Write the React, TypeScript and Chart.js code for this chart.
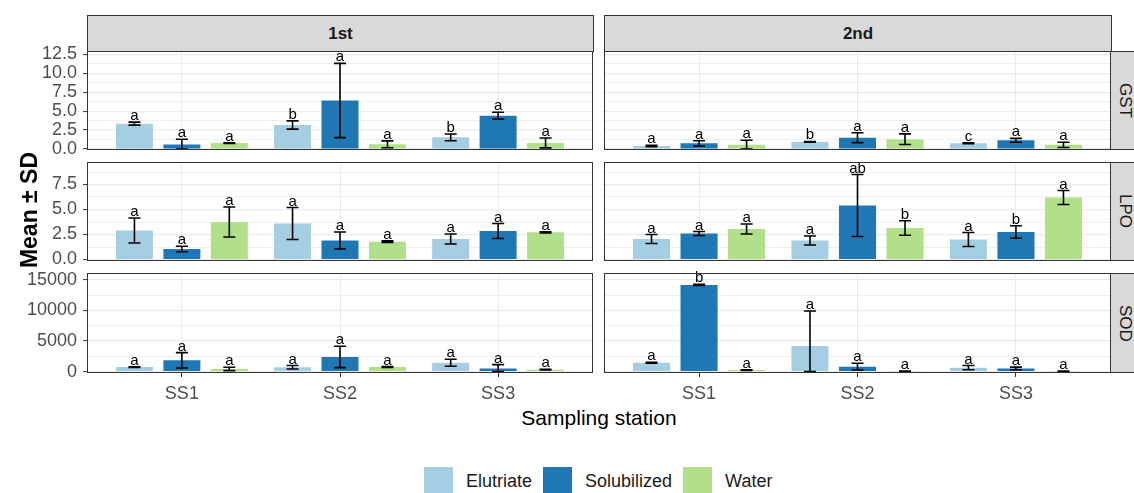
import React, { useEffect, useRef } from 'react';
import { Chart, registerables } from 'chart.js';

Chart.register(...registerables);

const FONT = "'Liberation Sans', Arial, Helvetica, sans-serif";
Chart.defaults.font.family = FONT;

// ---------- data ----------
const STATIONS = ['SS1', 'SS2', 'SS3'];
const STATION_POS = [1, 2, 3];
const TREATMENTS = ['Elutriate', 'Solubilized', 'Water'];
const COLORS = ['#A6CEE3', '#1F78B4', '#B2DF8A'];
const PERIODS = ['1st', '2nd'];
const METRICS = ['GST', 'LPO', 'SOD'];

// rows: Elutriate, Solubilized, Water ; columns: SS1, SS2, SS3
const GST_1ST_MEAN = [[3.35, 3.17, 1.54], [0.6, 6.4, 4.4], [0.78, 0.62, 0.8]];
const GST_1ST_SD = [[0.2, 0.55, 0.44], [0.68, 4.9, 0.45], [0.05, 0.45, 0.65]];
const GST_1ST_LETTERS = [['a', 'b', 'b'], ['a', 'a', 'a'], ['a', 'a', 'a']];

const GST_2ND_MEAN = [[0.4, 0.95, 0.75], [0.75, 1.5, 1.15], [0.55, 1.3, 0.55]];
const GST_2ND_SD = [[0.08, 0.05, 0.06], [0.35, 0.65, 0.25], [0.6, 0.7, 0.35]];
const GST_2ND_LETTERS = [['a', 'b', 'c'], ['a', 'a', 'a'], ['a', 'a', 'a']];

const LPO_1ST_MEAN = [[2.9, 3.6, 2.05], [1.05, 1.9, 2.85], [3.75, 1.78, 2.72]];
const LPO_1ST_SD = [[1.25, 1.6, 0.5], [0.27, 0.85, 0.75], [1.5, 0.08, 0.06]];
const LPO_1ST_LETTERS = [['a', 'a', 'a'], ['a', 'a', 'a'], ['a', 'a', 'a']];

const LPO_2ND_MEAN = [[2.05, 1.9, 2.0], [2.6, 5.4, 2.75], [3.05, 3.15, 6.2]];
const LPO_2ND_SD = [[0.45, 0.45, 0.7], [0.2, 3.1, 0.62], [0.5, 0.72, 0.7]];
const LPO_2ND_LETTERS = [['a', 'a', 'a'], ['a', 'ab', 'b'], ['a', 'b', 'a']];

const SOD_1ST_MEAN = [[750, 720, 1450], [1850, 2400, 520], [450, 760, 320]];
const SOD_1ST_SD = [[60, 280, 580], [1250, 1750, 620], [280, 80, 60]];
const SOD_1ST_LETTERS = [['a', 'a', 'a'], ['a', 'a', 'a'], ['a', 'a', 'a']];

const SOD_2ND_MEAN = [[1450, 4200, 650], [14150, 820, 520], [260, 60, 60]];
const SOD_2ND_SD = [[80, 5700, 350], [100, 550, 220], [50, 30, 30]];
const SOD_2ND_LETTERS = [['a', 'a', 'a'], ['b', 'a', 'a'], ['a', 'a', 'a']];

// axis ticks / limits
const GST_MAJOR = [0, 2.5, 5, 7.5, 10, 12.5];
const GST_MINOR = [1.25, 3.75, 6.25, 8.75, 11.25];
const GST_LIMITS = [-0.13, 12.94];
const LPO_MAJOR = [0, 2.5, 5, 7.5];
const LPO_MINOR = [1.25, 3.75, 6.25, 8.75];
const LPO_LIMITS = [-0.15, 9.75];
const SOD_MAJOR = [0, 5000, 10000, 15000];
const SOD_MINOR = [2500, 7500, 12500];
const SOD_LIMITS = [-220, 16100];
const X_LIMITS = [0.4, 3.6];

// ---------- layout ----------
const COL_LEFT = [87, 604];
const COL_WIDTH = [506, 507];
const ROW_TOP = [51, 162, 273];
const ROW_HEIGHT = [99, 99, 100];

const fmtDecimal = (v: number) => v.toFixed(1);
const fmtInt = (v: number) => String(v);

const ROWS = [
  { major: GST_MAJOR, minor: GST_MINOR, limits: GST_LIMITS, fmt: fmtDecimal,
    panels: [
      { mean: GST_1ST_MEAN, sd: GST_1ST_SD, letters: GST_1ST_LETTERS },
      { mean: GST_2ND_MEAN, sd: GST_2ND_SD, letters: GST_2ND_LETTERS },
    ] },
  { major: LPO_MAJOR, minor: LPO_MINOR, limits: LPO_LIMITS, fmt: fmtDecimal,
    panels: [
      { mean: LPO_1ST_MEAN, sd: LPO_1ST_SD, letters: LPO_1ST_LETTERS },
      { mean: LPO_2ND_MEAN, sd: LPO_2ND_SD, letters: LPO_2ND_LETTERS },
    ] },
  { major: SOD_MAJOR, minor: SOD_MINOR, limits: SOD_LIMITS, fmt: fmtInt,
    panels: [
      { mean: SOD_1ST_MEAN, sd: SOD_1ST_SD, letters: SOD_1ST_LETTERS },
      { mean: SOD_2ND_MEAN, sd: SOD_2ND_SD, letters: SOD_2ND_LETTERS },
    ] },
];

function makeErrorBarPlugin(mean: number[][], sd: number[][], letters: string[][]) {
  return {
    id: 'errorBars',
    afterDatasetsDraw(chart: any) {
      const ctx = chart.ctx;
      const y = chart.scales.y;
      ctx.save();
      chart.data.datasets.forEach((_ds: any, i: number) => {
        const meta = chart.getDatasetMeta(i);
        meta.data.forEach((bar: any, j: number) => {
          const m = mean[i][j];
          const s = sd[i][j];
          const top = y.getPixelForValue(m + s);
          const bot = y.getPixelForValue(Math.max(0, m - s));
          const x = bar.x;
          ctx.strokeStyle = '#000000';
          ctx.lineWidth = 1.6;
          ctx.beginPath();
          ctx.moveTo(x, top);
          ctx.lineTo(x, bot);
          ctx.moveTo(x - 6, top);
          ctx.lineTo(x + 6, top);
          ctx.moveTo(x - 6, bot);
          ctx.lineTo(x + 6, bot);
          ctx.stroke();
          ctx.fillStyle = '#000000';
          ctx.font = `15px ${FONT}`;
          ctx.textAlign = 'center';
          ctx.textBaseline = 'alphabetic';
          ctx.fillText(letters[i][j], x, top - 2);
        });
      });
      ctx.restore();
    },
  };
}

const panelBorderPlugin = {
  id: 'panelBorder',
  afterDraw(chart: any) {
    const { ctx, chartArea } = chart;
    ctx.save();
    ctx.strokeStyle = '#333333';
    ctx.lineWidth = 1;
    const l = Math.round(chartArea.left) + 0.5;
    const t = Math.round(chartArea.top) + 0.5;
    const r = Math.round(chartArea.right) - 0.5;
    const b = Math.round(chartArea.bottom) - 0.5;
    ctx.strokeRect(l, t, r - l, b - t);
    ctx.restore();
  },
};

type PanelProps = {
  col: number;
  row: number;
};

function Panel({ col, row }: PanelProps) {
  const ref = useRef<HTMLCanvasElement | null>(null);
  const rowDef = ROWS[row];
  const panel = rowDef.panels[col];
  const showY = col === 0;
  const showX = row === ROWS.length - 1;
  const areaLeft = COL_LEFT[col];
  const areaWidth = COL_WIDTH[col];
  const areaTop = ROW_TOP[row];
  const areaHeight = ROW_HEIGHT[row];
  const cLeft = showY ? 0 : areaLeft - 2;
  const cWidth = areaLeft + areaWidth + 2 - cLeft;
  const cTop = areaTop - 10;
  const cHeight = areaHeight + 10 + (showX ? 30 : 10);

  useEffect(() => {
    if (!ref.current) return;
    const major = rowDef.major;
    const allTicks = [...rowDef.major, ...rowDef.minor].sort((a, b) => a - b);
    const chart = new Chart(ref.current, {
      type: 'bar',
      data: {
        datasets: TREATMENTS.map((t, i) => ({
          label: t,
          data: STATION_POS.map((p, j) => ({ x: p, y: panel.mean[i][j] })),
          backgroundColor: COLORS[i],
          borderWidth: 0,
          categoryPercentage: 0.9,
          barPercentage: 0.78,
        })),
      },
      options: {
        responsive: false,
        maintainAspectRatio: false,
        animation: false,
        events: [],
        layout: {
          padding: { left: showY ? 0 : 2, right: 2, top: 10, bottom: showX ? 0 : 10 },
        },
        plugins: {
          legend: { display: false },
          tooltip: { enabled: false },
        },
        scales: {
          x: {
            type: 'linear',
            min: X_LIMITS[0],
            max: X_LIMITS[1],
            offset: false,
            afterBuildTicks: (axis: any) => {
              axis.ticks = STATION_POS.map((v) => ({ value: v }));
            },
            afterFit: (s: any) => {
              s.height = showX ? 30 : 0;
              s.paddingLeft = 0;
              s.paddingRight = 0;
            },
            ticks: {
              display: showX,
              autoSkip: false,
              maxRotation: 0,
              padding: 6,
              color: '#4D4D4D',
              font: { size: 18, family: FONT },
              callback: (v: any) => {
                const k = STATION_POS.indexOf(Number(v));
                return k >= 0 ? STATIONS[k] : '';
              },
            },
            grid: {
              offset: false,
              color: '#EBEBEB',
              lineWidth: 1,
              drawTicks: showX,
              tickLength: 4,
              tickColor: '#333333',
              tickWidth: 1,
            },
            border: { display: false },
          },
          y: {
            type: 'linear',
            min: rowDef.limits[0],
            max: rowDef.limits[1],
            afterBuildTicks: (axis: any) => {
              axis.ticks = allTicks.map((v) => ({ value: v }));
            },
            afterFit: (s: any) => {
              s.width = showY ? 87 : 0;
              s.paddingTop = 0;
              s.paddingBottom = 0;
            },
            ticks: {
              display: showY,
              autoSkip: false,
              padding: 6,
              color: '#4D4D4D',
              font: { size: 18, family: FONT },
              callback: (v: any) => (major.includes(Number(v)) ? rowDef.fmt(Number(v)) : ''),
            },
            grid: {
              color: '#EBEBEB',
              lineWidth: (c: any) => (c.tick && major.includes(c.tick.value) ? 1.2 : 0.8),
              drawTicks: showY,
              tickLength: 4,
              tickWidth: 1,
              tickColor: (c: any) =>
                c.tick && major.includes(c.tick.value) ? '#333333' : 'rgba(0,0,0,0)',
            },
            border: { display: false },
          },
        },
      } as any,
      plugins: [makeErrorBarPlugin(panel.mean, panel.sd, panel.letters), panelBorderPlugin],
    });
    return () => chart.destroy();
  }, []);

  return (
    <canvas
      ref={ref}
      width={cWidth}
      height={cHeight}
      style={{ position: 'absolute', left: cLeft, top: cTop, width: cWidth, height: cHeight }}
    />
  );
}

export default function App() {
  return (
    <div
      style={{
        position: 'fixed',
        left: 0,
        top: 0,
        width: 1134,
        height: 493,
        background: '#FFFFFF',
        overflow: 'hidden',
        fontFamily: FONT,
      }}
    >
      {/* top strips */}
      {PERIODS.map((p, c) => (
        <div
          key={p}
          style={{
            position: 'absolute',
            left: COL_LEFT[c],
            top: 15,
            width: COL_WIDTH[c] + 1,
            height: ROW_TOP[0] - 15 + 1,
            boxSizing: 'border-box',
            background: '#D9D9D9',
            border: '1px solid #333333',
            display: 'flex',
            alignItems: 'center',
            justifyContent: 'center',
            fontWeight: 'bold',
            fontSize: 17,
            color: '#1A1A1A',
          }}
        >
          {p}
        </div>
      ))}
      {/* right strips */}
      {METRICS.map((m, r) => (
        <div
          key={m}
          style={{
            position: 'absolute',
            left: COL_LEFT[1] + COL_WIDTH[1] - 1,
            top: ROW_TOP[r],
            width: 32,
            height: ROW_HEIGHT[r],
            boxSizing: 'border-box',
            background: '#D9D9D9',
            border: '1px solid #333333',
            display: 'flex',
            alignItems: 'center',
            justifyContent: 'center',
            fontSize: 17,
            color: '#1A1A1A',
          }}
        >
          <span style={{ writingMode: 'vertical-rl' as any, marginRight: 2 }}>{m}</span>
        </div>
      ))}
      {/* panels */}
      {ROWS.map((_r, ri) =>
        PERIODS.map((_p, ci) => <Panel key={`${ri}-${ci}`} row={ri} col={ci} />)
      )}
      {/* y title */}
      <div
        style={{
          position: 'absolute',
          left: 29 - 150,
          top: 210 - 15,
          width: 300,
          height: 30,
          lineHeight: '30px',
          textAlign: 'center',
          transform: 'rotate(-90deg)',
          fontWeight: 'bold',
          fontSize: 23,
          color: '#000000',
        }}
      >
        Mean ± SD
      </div>
      {/* x title */}
      <div
        style={{
          position: 'absolute',
          left: 449,
          top: 405,
          width: 300,
          height: 26,
          lineHeight: '26px',
          textAlign: 'center',
          fontSize: 21,
          color: '#000000',
        }}
      >
        Sampling station
      </div>
      {/* legend */}
      <div
        style={{
          position: 'absolute',
          left: 424,
          top: 467,
          display: 'flex',
          alignItems: 'center',
          fontSize: 18,
          color: '#1A1A1A',
          whiteSpace: 'nowrap',
        }}
      >
        {TREATMENTS.map((t, i) => (
          <React.Fragment key={t}>
            <span style={{ display: 'inline-block', width: 29, height: 29, background: COLORS[i], marginRight: 13 }} />
            <span style={{ marginRight: i < TREATMENTS.length - 1 ? 11 : 0 }}>{t}</span>
          </React.Fragment>
        ))}
      </div>
    </div>
  );
}
